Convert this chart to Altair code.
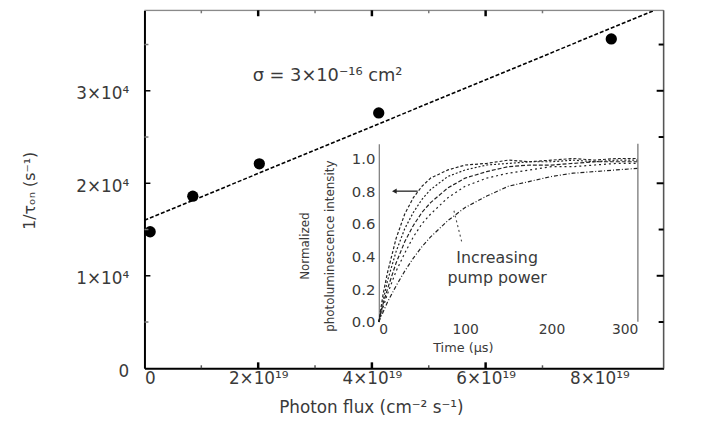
import altair as alt
import pandas as pd

# ---------------- data ----------------
flux = [0.10e19, 0.85e19, 2.02e19, 4.12e19, 8.21e19]
rate = [1.476e4, 1.86e4, 2.21e4, 2.76e4, 3.56e4]

fit_x = [0.0, 8.97e19]
fit_y = [1.60e4, 3.87e4]

x_ticks_major = [2e19, 4e19, 6e19]
x_ticks_minor = [1e19, 3e19, 5e19, 7e19]
x_labels = [0, 2e19, 4e19, 6e19, 8e19]
y_ticks_major = [1e4, 2e4, 3e4]
y_ticks_minor = [0.5e4, 1.5e4, 2.5e4, 3.5e4]
y_labels = [0, 1e4, 2e4, 3e4]

time_us = [0, 5, 10, 20, 30, 40, 50, 60, 80, 100, 125, 150, 175, 200, 225, 250, 275, 300]
curve1 = [0, 0.17, 0.30, 0.51, 0.66, 0.76, 0.83, 0.88, 0.93, 0.96, 0.97, 0.99, 0.98, 0.99, 1.00, 0.99, 1.00, 1.00]
curve2 = [0, 0.13, 0.25, 0.43, 0.57, 0.67, 0.75, 0.81, 0.89, 0.93, 0.96, 0.97, 0.98, 0.98, 0.99, 0.98, 0.99, 0.99]
curve3 = [0, 0.11, 0.20, 0.36, 0.49, 0.59, 0.67, 0.73, 0.82, 0.88, 0.92, 0.95, 0.96, 0.96, 0.97, 0.98, 0.98, 0.98]
curve4 = [0, 0.09, 0.17, 0.31, 0.42, 0.52, 0.60, 0.66, 0.76, 0.83, 0.88, 0.91, 0.93, 0.95, 0.95, 0.96, 0.97, 0.97]
curve5 = [0, 0.06, 0.12, 0.22, 0.31, 0.39, 0.46, 0.52, 0.62, 0.70, 0.77, 0.83, 0.86, 0.89, 0.91, 0.92, 0.93, 0.94]
curves = [curve1, curve2, curve3, curve4, curve5]

sigma_text = ["σ  =  3×10⁻¹⁶ cm²"]
sigma_x = [3.22e19]
sigma_y = [3.155e4]

arrow_t = [18, 45]
arrow_v = [0.8, 0.8]
pointer_t = [96, 87]
pointer_v = [0.49, 0.68]
inc_text = ["Increasing", "pump power"]
inc_t = [137, 137]
inc_v = [0.39, 0.27]

# ---------------- layout ----------------
W, H = 525, 362
FONT = "DejaVu Sans"
GREY = "#3a3a3a"

x_main = alt.Scale(domain=[0, 9.13e19], nice=False, zero=False)
y_main = alt.Scale(domain=[0, 3.87e4], nice=False)

x_in = alt.Scale(domain=[0, 300], range=[237, 499], nice=False, zero=False)
y_in = alt.Scale(domain=[0, 1.09], range=[315, 135], nice=False)

pts = pd.DataFrame({"flux": flux, "rate": rate})
fit = pd.DataFrame({"flux": fit_x, "rate": fit_y})

x_axis = alt.Axis(
    orient="bottom", values=x_labels, tickSize=0, grid=False,
    labelExpr="datum.value == 0 ? '0' : format(datum.value/1e19, 'd') + '×10¹⁹'",
    labelFont=FONT, labelFontSize=17, labelColor=GREY, labelPadding=2,
    domainColor="black", domainWidth=2,
    title="Photon flux (cm⁻² s⁻¹)", titleFont=FONT, titleFontSize=17,
    titleFontWeight="normal", titleColor=GREY, titleX=229, titleY=40,
    titleBaseline="middle", titleAlign="center",
)
y_axis = alt.Axis(
    orient="left", values=y_labels, tickSize=0, grid=False,
    labelExpr="datum.value == 0 ? '0' : format(datum.value/1e4, 'd') + '×10⁴'",
    labelFont=FONT, labelFontSize=17, labelColor=GREY, labelPadding=16,
    labelBaseline="middle", labelOffset=3,
    domainColor="black", domainWidth=2,
    title="1/τₒₙ (s⁻¹)", titleFont=FONT, titleFontSize=16,
    titleFontWeight="normal", titleColor=GREY, titleX=-116, titleY=182,
    titleAngle=-90, titleBaseline="middle", titleAlign="center",
)

line = alt.Chart(fit).mark_line(color="black", strokeWidth=1.6, strokeDash=[4, 2], clip=True).encode(
    x=alt.X("flux:Q", scale=x_main, axis=x_axis),
    y=alt.Y("rate:Q", scale=y_main, axis=y_axis),
)
points = alt.Chart(pts).mark_circle(color="black", size=130, opacity=1, clip=True).encode(
    x=alt.X("flux:Q", scale=x_main),
    y=alt.Y("rate:Q", scale=y_main),
)
sigma = alt.Chart(pd.DataFrame({"flux": sigma_x, "rate": sigma_y, "t": sigma_text})).mark_text(
    font=FONT, fontSize=18, color=GREY, align="center", baseline="middle"
).encode(x=alt.X("flux:Q", scale=x_main), y=alt.Y("rate:Q", scale=y_main), text="t:N")

# frame top / right (thin grey)
top_line = alt.Chart(pd.DataFrame({"a": [0]})).mark_rule(color="#8a8a8a", strokeWidth=1.2).encode(
    x=alt.value(0), x2=alt.value(W), y=alt.value(0))
right_line = alt.Chart(pd.DataFrame({"a": [0]})).mark_rule(color="#555555", strokeWidth=1.5).encode(
    x=alt.value(W), y=alt.value(0), y2=alt.value(H))

xmaj = pd.DataFrame({"flux": x_ticks_major})
xmin = pd.DataFrame({"flux": x_ticks_minor})
ymaj = pd.DataFrame({"rate": y_ticks_major})
ymin = pd.DataFrame({"rate": y_ticks_minor})

def xtick(df, y0, y1, w, c):
    return alt.Chart(df).mark_rule(color=c, strokeWidth=w).encode(
        x=alt.X("flux:Q", scale=x_main), y=alt.value(y0), y2=alt.value(y1))

def ytick(df, x0, x1, w, c):
    return alt.Chart(df).mark_rule(color=c, strokeWidth=w).encode(
        y=alt.Y("rate:Q", scale=y_main), x=alt.value(x0), x2=alt.value(x1))

ticks = [
    xtick(xmaj, H, H - 6, 2.5, "black"), xtick(xmin, H, H - 3, 1.5, "#555"),
    xtick(xmaj, 0, 6, 2.5, "black"), xtick(xmin, 0, 3, 1.5, "#777"),
    ytick(ymaj, 0, 6, 1.5, "black"), ytick(ymin, 0, 4, 1.5, "#777"),
    ytick(ymaj, W, W - 7, 2.0, "black"), ytick(ymin, W, W - 5, 2.0, "black"),
]

main = alt.layer(line, points, sigma, top_line, right_line, *ticks)

# ---------------- inset ----------------
rows = []
for i, c in enumerate(curves):
    for t, v in zip(time_us, c):
        rows.append({"t": t, "v": v, "curve": f"c{i+1}"})
cdf = pd.DataFrame(rows)

xi_axis = alt.Axis(
    orient="bottom", offset=-47, values=[0, 100, 200, 300], tickSize=0, domain=False, grid=False,
    labelFont=FONT, labelFontSize=14, labelColor=GREY, labelPadding=1,
    title="Time (µs)", titleFont=FONT, titleFontSize=13, titleFontWeight="normal",
    titleColor=GREY, titleX=322, titleY=26, titleBaseline="middle", titleAlign="center",
)
yi_axis = alt.Axis(
    orient="left", offset=-237, values=[0, 0.2, 0.4, 0.6, 0.8, 1.0], format=".1f",
    tickSize=0, grid=False, domainColor="#777", domainWidth=1.2,
    labelFont=FONT, labelFontSize=15, labelColor=GREY, labelPadding=4,
    title=["Normalized", "photoluminescence intensity"], titleFont=FONT, titleFontSize=12,
    titleFontWeight="normal", titleColor=GREY, titleX=-75, titleY=238, titleAngle=-90,
    titleBaseline="middle", titleAlign="center", titleLineHeight=25,
)

inset_curves = alt.Chart(cdf).mark_line(color="#222", strokeWidth=1.2).encode(
    x=alt.X("t:Q", scale=x_in, axis=xi_axis),
    y=alt.Y("v:Q", scale=y_in, axis=yi_axis),
    detail="curve:N",
    strokeDash=alt.StrokeDash("curve:N", legend=None,
                              scale=alt.Scale(range=[[3, 2], [2, 2], [4, 2], [2, 3], [4, 2, 1, 2]])),
)
arrow = alt.Chart(pd.DataFrame({"t": arrow_t, "v": arrow_v})).mark_line(color="#222", strokeWidth=1.3).encode(
    x=alt.X("t:Q", scale=x_in), y=alt.Y("v:Q", scale=y_in))
arrow_head = alt.Chart(pd.DataFrame({"t": arrow_t[:1], "v": arrow_v[:1]})).mark_point(
    shape="triangle-left", filled=True, color="#222", size=30, opacity=1).encode(
    x=alt.X("t:Q", scale=x_in), y=alt.Y("v:Q", scale=y_in))
pointer = alt.Chart(pd.DataFrame({"t": pointer_t, "v": pointer_v})).mark_line(
    color="#444", strokeWidth=1.1, strokeDash=[2, 3]).encode(
    x=alt.X("t:Q", scale=x_in), y=alt.Y("v:Q", scale=y_in))
inc = alt.Chart(pd.DataFrame({"t": inc_t, "v": inc_v, "s": inc_text})).mark_text(
    font=FONT, fontSize=16, color=GREY, align="center", baseline="middle").encode(
    x=alt.X("t:Q", scale=x_in), y=alt.Y("v:Q", scale=y_in), text="s:N")
inset_right = alt.Chart(pd.DataFrame({"t": [300]})).mark_rule(color="#777", strokeWidth=1.3).encode(
    x=alt.X("t:Q", scale=x_in), y=alt.value(135), y2=alt.value(315))

inset = alt.layer(inset_curves, arrow, arrow_head, pointer, inc, inset_right)

chart = alt.layer(main, inset).resolve_scale(
    x="independent", y="independent", strokeDash="independent"
).properties(
    width=W, height=H, autosize="none",
    padding={"left": 138, "top": 0, "right": 53, "bottom": 52},
).configure_view(stroke=None).configure(background="white")

chart.save("out.html", embed_options={"renderer": "svg", "actions": False})
